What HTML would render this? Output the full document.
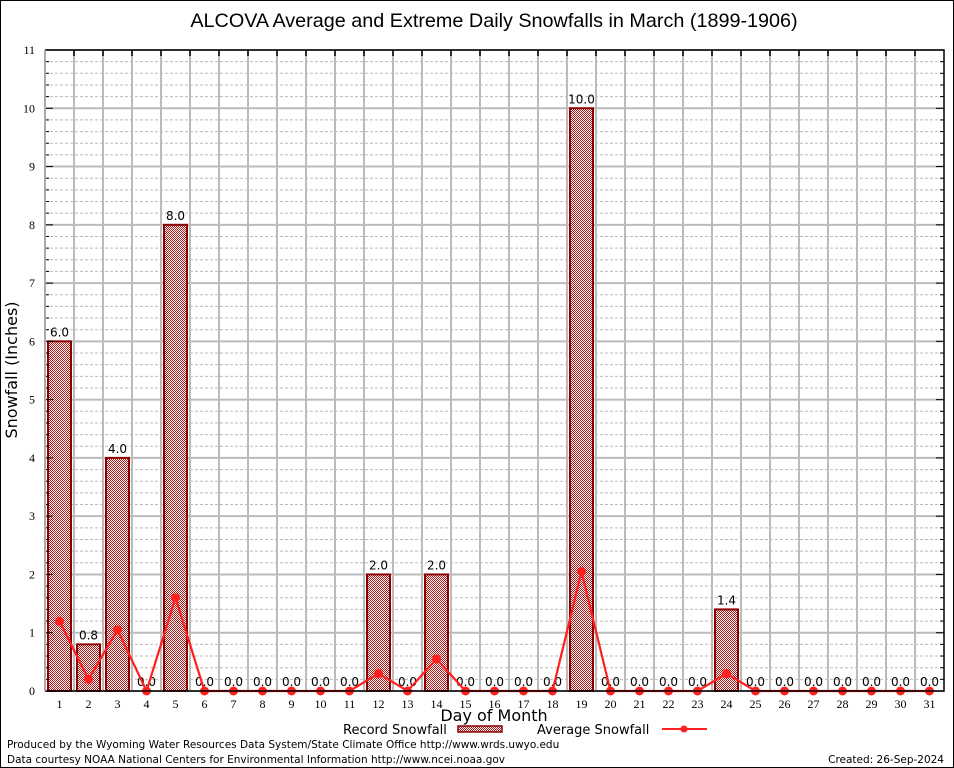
<!DOCTYPE html>
<html><head><meta charset="utf-8">
<style>
html,body{margin:0;padding:0;background:#fff;}
svg{display:block;font-family:"DejaVu Sans","Liberation Sans",sans-serif;}
</style></head>
<body>
<svg id="chart" width="954" height="768" viewBox="0 0 954 768">
<defs>
<pattern id="chk" width="2" height="2" patternUnits="userSpaceOnUse">
<rect width="2" height="2" fill="#fff"/>
<rect width="1" height="1" fill="#b01818"/>
<rect x="1" y="1" width="1" height="1" fill="#b01818"/>
</pattern>
</defs>
<rect x="0.5" y="0.5" width="953" height="767" fill="#fff" stroke="#000"/>
<text x="494" y="27" font-size="19.8" text-anchor="middle" font-family="Liberation Sans, sans-serif">ALCOVA Average and Extreme Daily Snowfalls in March (1899-1906)</text>
<g id="grid"></g>
<g id="bars"></g>
<g id="line"></g>
<g id="axes"></g>
<text x="17" y="370" font-size="16" text-anchor="middle" transform="rotate(-90 17 370)">Snowfall (Inches)</text>
<text x="494" y="721" font-size="16" text-anchor="middle">Day of Month</text>
<g>
<text x="343" y="734" font-size="13">Record Snowfall</text>
<rect x="458" y="726" width="44" height="6" fill="url(#chk)" stroke="#8b0000" stroke-width="1.5"/>
<text x="537" y="734" font-size="13">Average Snowfall</text>
<line x1="662" y1="729" x2="707" y2="729" stroke="#ff2020" stroke-width="2"/>
<circle cx="684" cy="729" r="3.5" fill="#ff2020"/>
</g>
<text x="7" y="748" font-size="10.5">Produced by the Wyoming Water Resources Data System/State Climate Office http://www.wrds.uwyo.edu</text>
<text x="7" y="763" font-size="10.5">Data courtesy NOAA National Centers for Environmental Information http://www.ncei.noaa.gov</text>
<text x="944" y="763" font-size="10.5" text-anchor="end">Created: 26-Sep-2024</text>
</svg>
<script>
const days = [1,2,3,4,5,6,7,8,9,10,11,12,13,14,15,16,17,18,19,20,21,22,23,24,25,26,27,28,29,30,31];
const recordSnow = [6.0,0.8,4.0,0,8.0,0,0,0,0,0,0,2.0,0,2.0,0,0,0,0,10.0,0,0,0,0,1.4,0,0,0,0,0,0,0];
const avgSnow = [1.2,0.2,1.05,0,1.6,0,0,0,0,0,0,0.3,0,0.55,0,0,0,0,2.05,0,0,0,0,0.3,0,0,0,0,0,0,0];
const yTicks = [0,1,2,3,4,5,6,7,8,9,10,11];

const NS='http://www.w3.org/2000/svg';
const L=45,R=944,T=50,B=691,YMAX=11;
const x = d => L + (d-0.5)*(R-L)/31;
const y = v => B - v*(B-T)/YMAX;
function mk(tag,attrs,parent){const e=document.createElementNS(NS,tag);for(const k in attrs)e.setAttribute(k,attrs[k]);parent.appendChild(e);return e;}
const grid=document.getElementById('grid'),bars=document.getElementById('bars'),line=document.getElementById('line'),axes=document.getElementById('axes');

for(let i=1;i<YMAX*5;i++){ if(i%5===0) continue;
  const e=mk('line',{x1:L,x2:R,y1:y(i/5),y2:y(i/5),stroke:'#bbb','stroke-width':1,'stroke-dasharray':'3,2'},grid);
  
  
}
yTicks.forEach(t=>{
  const e=mk('line',{x1:L,x2:R,y1:y(t),y2:y(t),stroke:'#bbb','stroke-width':2},grid);
  
  
  const lb=mk('text',{x:35,y:y(t)+4,'font-size':12,'text-anchor':'end','font-family':'Liberation Serif, serif'},axes);
  lb.textContent=t;
  
  
});
for(let d=1;d<31;d++){
  const e=mk('line',{x1:x(d+0.5),x2:x(d+0.5),y1:T,y2:B,stroke:'#bbb','stroke-width':2},grid);
  
  
  const tk=mk('line',{x1:x(d+0.5),x2:x(d+0.5),y1:T,y2:T+6,stroke:'#000','stroke-width':1.5},axes);
  
  
}
for(let i=1;i<YMAX*5;i++){
  const len = i%5===0?8:4;
  const e=mk('line',{x1:L,x2:L+len,y1:y(i/5),y2:y(i/5),stroke:'#000','stroke-width':1},axes);
  
  
  const e2=mk('line',{x1:R-len,x2:R,y1:y(i/5),y2:y(i/5),stroke:'#000','stroke-width':1},axes);
  
  
}
days.forEach((d,i)=>{
  const v=recordSnow[i];
  if(v>0){
    const b=mk('rect',{x:x(d)-11.5,y:y(v),width:23,height:B-y(v),fill:'url(#chk)',stroke:'#8b0000','stroke-width':2},bars);
    
    
  }
  const t=mk('text',{x:x(d),y:y(v)-5,'font-size':12,'text-anchor':'middle'},bars);
  t.textContent=v.toFixed(1);
  
  
  const xl=mk('text',{x:x(d),y:B+17,'font-size':12,'text-anchor':'middle','font-family':'Liberation Serif, serif'},axes);
  xl.textContent=d;
  
  
});
const pl=mk('polyline',{points:days.map((d,i)=>x(d)+','+y(avgSnow[i])).join(' '),fill:'none',stroke:'#ff2020','stroke-width':2.2},line);


days.forEach((d,i)=>{
  const c=mk('circle',{cx:x(d),cy:y(avgSnow[i]),r:4.5,fill:'#ff2020'},line);
  
  
});
const ax=mk('path',{d:`M${L},${T}H${R}V${B}H${L}`,fill:'none',stroke:'#000','stroke-width':1.5},axes);


const la=mk('line',{x1:L,x2:L,y1:T,y2:B,stroke:'#aaa','stroke-width':2},axes);


</script>
</body></html>
